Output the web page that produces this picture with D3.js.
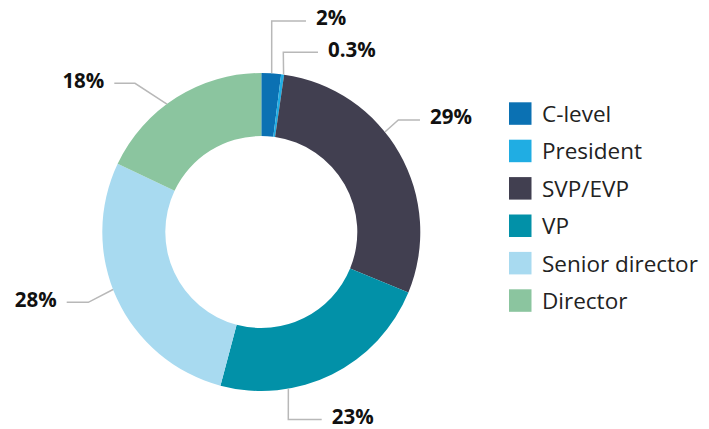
<!DOCTYPE html>
<html>
<head>
<meta charset="utf-8">
<script src="https://cdn.jsdelivr.net/npm/d3@7"></script>
<style>
  html, body { margin: 0; padding: 0; background: #ffffff; }
  svg { display: block; font-family: "Open Sans", "Noto Sans", sans-serif; }
</style>
</head>
<body>
<svg id="chart" width="709" height="429"></svg>
<script>
// Share of respondents by job level (percent)
const categories = ["C-level", "President", "SVP/EVP", "VP", "Senior director", "Director"];
const values = [2, 0.3, 29, 23, 28, 18];
const valueLabels = ["2%", "0.3%", "29%", "23%", "28%", "18%"];
const colors = ["#0b71b3", "#20ade3", "#413f50", "#0291a8", "#a8daf0", "#8bc59f"];

// Leader-line layout per slice: anchor angle on the outer rim (degrees clockwise
// from 12 o'clock), elbow point relative to the centre, and the x where the line ends.
const leaderAngle = [3.75, 8.06, 51, 170.2, 248.8, 323.6];
const leaderElbow = [[10.4, -211], [22, -179.7], [137, -112], [27, 187.6], [-173, 70.3], [-126.3, -148.7]];
const leaderEndX = [44.7, 56.7, 158.7, 60.4, -194.6, -147];

const cx = 261.3, cy = 232;
const outerR = 159, innerR = 96;

const svg = d3.select("#chart");
const g = svg.append("g").attr("transform", `translate(${cx},${cy})`);

const pie = d3.pie().sort(null).value(d => d)(values);
const arc = d3.arc().innerRadius(innerR).outerRadius(outerR);

g.selectAll("path.slice")
  .data(pie)
  .join("path")
  .attr("class", "slice")
  .attr("d", arc)
  .attr("fill", (d, i) => colors[i]);

// Leader lines and value labels
const toRad = Math.PI / 180;
values.forEach((v, i) => {
  const a = leaderAngle[i] * toRad;
  const start = [outerR * Math.sin(a), -outerR * Math.cos(a)];
  const elbow = leaderElbow[i];
  const end = [leaderEndX[i], elbow[1]];
  g.append("path")
    .attr("d", d3.line()([start, elbow, end]))
    .attr("fill", "none")
    .attr("stroke", "#b8b8b8")
    .attr("stroke-width", 1.5);
  const right = end[0] >= elbow[0];
  g.append("text")
    .attr("x", end[0] + (right ? 10 : -10))
    .attr("y", end[1] + 4.2)
    .attr("text-anchor", right ? "start" : "end")
    .attr("font-size", 20.5)
    .attr("font-weight", 700)
    .attr("fill", "#111111")
    .text(valueLabels[i]);
});

// Legend
const legend = svg.append("g").attr("transform", "translate(509,102.3)");
const rowH = 37.4, sw = 22.5;
const rows = legend.selectAll("g")
  .data(categories)
  .join("g")
  .attr("transform", (d, i) => `translate(0,${i * rowH})`);
rows.append("rect")
  .attr("width", sw).attr("height", sw)
  .attr("fill", (d, i) => colors[i]);
rows.append("text")
  .attr("x", 33)
  .attr("y", 19.6)
  .attr("font-size", 22.5)
  .attr("fill", "#222222")
  .text(d => d);
</script>
</body>
</html>
